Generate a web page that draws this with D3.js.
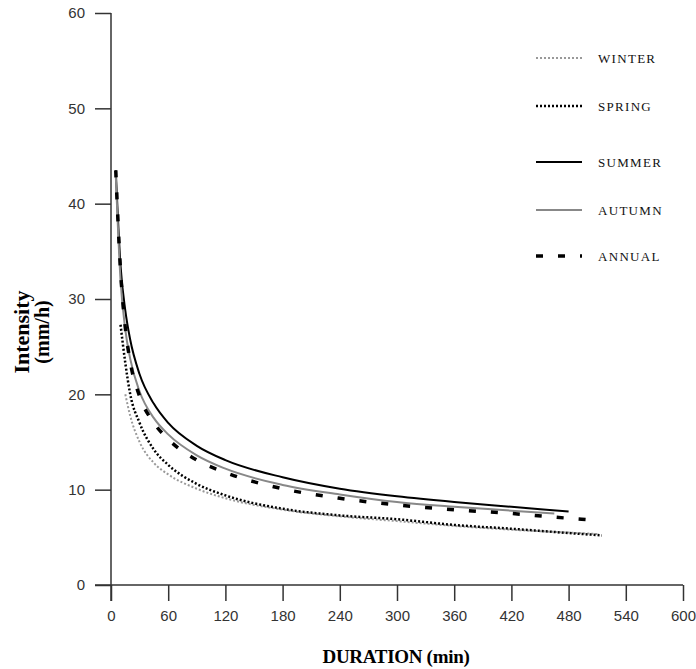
<!DOCTYPE html>
<html>
<head>
<meta charset="utf-8">
<script src="https://cdn.jsdelivr.net/npm/d3@7"></script>
<style>
  body { margin: 0; background: #fff; }
  .tick text { font-family: "Liberation Sans", Arial, sans-serif; font-size: 15px; fill: #333; }
</style>
</head>
<body>
<div id="chart"></div>
<script>
// durations (min) and intensities (mm/h)
const winterDur = [15, 20, 30, 45, 60, 90, 120, 180, 240, 300, 360, 420, 480, 510];
const winterVal = [20.0, 17.8, 15.0, 12.8, 11.6, 10.1, 9.1, 7.9, 7.2, 6.7, 6.2, 5.8, 5.5, 5.35];

const springDur = [10, 15, 20, 30, 45, 60, 90, 120, 180, 240, 300, 360, 420, 480, 515];
const springVal = [27.3, 23.3, 20.1, 17.0, 14.2, 12.6, 10.6, 9.4, 8.0, 7.3, 6.9, 6.3, 5.9, 5.45, 5.2];

const summerDur = [5, 10, 15, 20, 30, 45, 60, 90, 120, 180, 240, 300, 360, 420, 480];
const summerVal = [43.5, 33.5, 28.8, 25.8, 22.1, 19.0, 17.0, 14.6, 13.1, 11.3, 10.1, 9.3, 8.7, 8.2, 7.7];

const autumnDur = [5, 10, 15, 20, 30, 45, 60, 90, 120, 180, 240, 300, 360, 420, 465];
const autumnVal = [43.0, 32.0, 26.8, 23.8, 20.3, 17.5, 15.8, 13.6, 12.2, 10.5, 9.5, 8.7, 8.2, 7.8, 7.5];

const annualDur = [5, 10, 15, 20, 30, 45, 60, 90, 120, 180, 240, 300, 360, 420, 480, 500];
const annualVal = [43.5, 33.0, 27.0, 23.5, 19.8, 17.0, 15.3, 13.1, 11.8, 10.1, 9.1, 8.4, 7.9, 7.5, 7.0, 6.85];

const xTicks = [0, 60, 120, 180, 240, 300, 360, 420, 480, 540, 600];
const yTicks = [0, 10, 20, 30, 40, 50, 60];

const series = [
    {name: "WINTER", dur: winterDur, val: winterVal, color: "#999", width: 2, dash: "2,2"},
    {name: "SPRING", dur: springDur, val: springVal, color: "#000", width: 2.5, dash: "2,2"},
    {name: "SUMMER", dur: summerDur, val: summerVal, color: "#000", width: 2, dash: null},
    {name: "AUTUMN", dur: autumnDur, val: autumnVal, color: "#888", width: 2, dash: null},
    {name: "ANNUAL", dur: annualDur, val: annualVal, color: "#000", width: 3.5, dash: "7,15"}
];

const width = 696, height = 669;
const margin = {top: 13, left: 111, right: 13, bottom: 84};

const svg = d3.select("#chart").append("svg")
    .attr("width", width)
    .attr("height", height);

const x = d3.scaleLinear().domain([0, 600]).range([margin.left, width - margin.right]);
const y = d3.scaleLinear().domain([0, 60]).range([height - margin.bottom, margin.top]);

const axisColor = "#333";

// x axis
const gx = svg.append("g")
    .attr("transform", `translate(0,${y(0)})`)
    .call(d3.axisBottom(x).tickValues(xTicks).tickSize(16).tickSizeOuter(0).tickPadding(9));
gx.select(".domain").remove();
gx.selectAll(".tick line").attr("stroke", axisColor).attr("stroke-width", 1.5);

// y axis
const gy = svg.append("g")
    .attr("transform", `translate(${x(0)},0)`)
    .call(d3.axisLeft(y).tickValues(yTicks).tickSize(16).tickSizeOuter(0).tickPadding(10));
gy.select(".domain").remove();
gy.selectAll(".tick line").attr("stroke", axisColor).attr("stroke-width", 1.5);

// axis lines (y axis runs below the x axis, x axis runs left of the y axis)
svg.append("line")
    .attr("x1", x(0)).attr("x2", x(0))
    .attr("y1", y(60)).attr("y2", y(0) + 16)
    .attr("stroke", axisColor).attr("stroke-width", 1.5);
svg.append("line")
    .attr("x1", x(0) - 16).attr("x2", x(600))
    .attr("y1", y(0)).attr("y2", y(0))
    .attr("stroke", axisColor).attr("stroke-width", 1.5);

// curves
const line = d3.line()
    .x(d => x(d[0]))
    .y(d => y(d[1]))
    .curve(d3.curveMonotoneX);

series.forEach(s => {
    const pts = s.dur.map((d, i) => [d, s.val[i]]);
    svg.append("path")
        .datum(pts)
        .attr("fill", "none")
        .attr("stroke", s.color)
        .attr("stroke-width", s.width)
        .attr("stroke-dasharray", s.dash)
        .attr("d", line);
});

// legend
const legendY = [58, 106, 162, 210, 256];
const legend = svg.append("g");
series.forEach((s, i) => {
    legend.append("line")
        .attr("x1", 536).attr("x2", 582)
        .attr("y1", legendY[i]).attr("y2", legendY[i])
        .attr("stroke", s.color)
        .attr("stroke-width", s.width)
        .attr("stroke-dasharray", s.dash);
    legend.append("text")
        .attr("x", 598)
        .attr("y", legendY[i])
        .attr("dy", "0.35em")
        .style("font-family", "'Liberation Serif', 'Times New Roman', serif")
        .style("font-size", "13px")
        .style("letter-spacing", "1.3px")
        .style("fill", "#111")
        .text(s.name);
});

// axis titles
svg.append("text")
    .attr("x", 396)
    .attr("y", 663)
    .attr("text-anchor", "middle")
    .style("font-family", "'Liberation Serif', 'Times New Roman', serif")
    .style("font-weight", "bold")
    .style("font-size", "19px")
    .style("letter-spacing", "-0.3px")
    .text("DURATION (min)");

const yTitle = svg.append("text")
    .attr("transform", "translate(29,332) rotate(-90)")
    .attr("text-anchor", "middle")
    .style("font-family", "'Liberation Serif', 'Times New Roman', serif")
    .style("font-weight", "bold");
yTitle.append("tspan").attr("x", 0).attr("dy", 0).style("font-size", "22px").text("Intensity");
yTitle.append("tspan").attr("x", 0).attr("dy", 20).style("font-size", "20px").text("(mm/h)");
</script>
</body>
</html>
